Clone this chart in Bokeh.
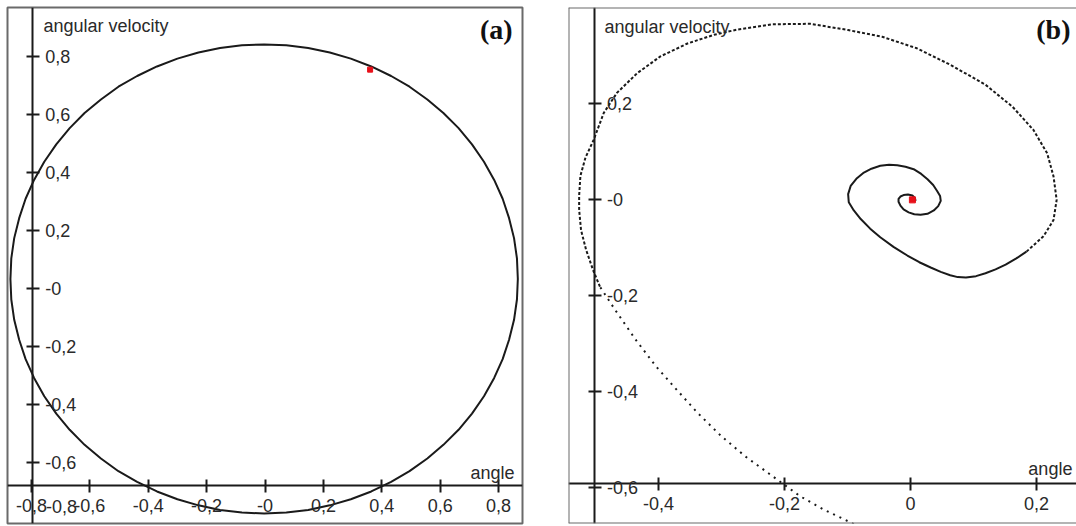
from bokeh.plotting import figure
from bokeh.models import LinearAxis, FixedTicker, Range1d, Label, Span
from bokeh.layouts import row
from bokeh.embed import file_html
from bokeh.resources import INLINE

# ---------------- data: panel (a) ----------------
orbit_a_angle = [0.866, 0.863, 0.853, 0.836, 0.814, 0.785, 0.750, 0.709, 0.663, 0.611,
                 0.556, 0.495, 0.432, 0.364, 0.294, 0.222, 0.148, 0.073, -0.003, -0.079,
                 -0.154, -0.228, -0.300, -0.370, -0.438, -0.502, -0.562, -0.618, -0.669,
                 -0.715, -0.756, -0.791, -0.820, -0.842, -0.859, -0.869, -0.872, -0.869,
                 -0.859, -0.842, -0.820, -0.791, -0.756, -0.715, -0.669, -0.618, -0.562,
                 -0.502, -0.438, -0.370, -0.300, -0.228, -0.154, -0.079, -0.003, 0.073,
                 0.148, 0.222, 0.294, 0.364, 0.432, 0.495, 0.556, 0.611, 0.663, 0.709,
                 0.750, 0.785, 0.814, 0.836, 0.853, 0.863, 0.866]
orbit_a_velocity = [0.033, 0.104, 0.174, 0.243, 0.310, 0.375, 0.438, 0.498, 0.554, 0.606,
                    0.653, 0.697, 0.734, 0.767, 0.794, 0.815, 0.831, 0.840, 0.843, 0.840,
                    0.831, 0.815, 0.794, 0.767, 0.734, 0.697, 0.653, 0.606, 0.554,
                    0.498, 0.438, 0.375, 0.310, 0.243, 0.174, 0.104, 0.033, -0.038,
                    -0.108, -0.177, -0.244, -0.309, -0.372, -0.432, -0.488, -0.540, -0.587,
                    -0.631, -0.668, -0.701, -0.728, -0.749, -0.765, -0.774, -0.777, -0.774,
                    -0.765, -0.749, -0.728, -0.701, -0.668, -0.631, -0.587, -0.540, -0.488,
                    -0.432, -0.372, -0.309, -0.244, -0.177, -0.108, -0.038, 0.033]
state_a_angle = [0.36]
state_a_velocity = [0.756]

a_xticks = [-0.8, -0.6, -0.4, -0.2, 0.0, 0.2, 0.4, 0.6, 0.8]
a_xtick_labels = ["-0,8", "-0,6", "-0,4", "-0,2", "-0", "0,2", "0,4", "0,6", "0,8"]
a_yticks = [0.8, 0.6, 0.4, 0.2, 0.0, -0.2, -0.4, -0.6]
a_ytick_labels = ["0,8", "0,6", "0,4", "0,2", "-0", "-0,2", "-0,4", "-0,6"]
a_extra_xlabel = "-0,8"

# ---------------- data: panel (b) ----------------
spiral_tail_angle = [-0.060, -0.099, -0.137, -0.175, -0.219, -0.262, -0.300, -0.338,
                     -0.371, -0.404, -0.436, -0.469, -0.493]
spiral_tail_velocity = [-0.695, -0.670, -0.646, -0.618, -0.576, -0.535, -0.493, -0.444,
                        -0.396, -0.347, -0.292, -0.229, -0.181]
spiral_outer_angle = [-0.493, -0.504, -0.515, -0.523, -0.526, -0.526, -0.524, -0.516,
                      -0.503, -0.487, -0.466, -0.434, -0.397, -0.354, -0.312, -0.275,
                      -0.219, -0.159, -0.099, -0.045, 0.010, 0.064, 0.119, 0.162, 0.195,
                      0.217, 0.227, 0.232, 0.227, 0.211, 0.184]
spiral_outer_velocity = [-0.181, -0.146, -0.104, -0.063, -0.021, 0.009, 0.050, 0.088,
                         0.125, 0.181, 0.223, 0.264, 0.299, 0.326, 0.344, 0.355,
                         0.366, 0.367, 0.354, 0.340, 0.316, 0.281, 0.240, 0.194, 0.146,
                         0.097, 0.049, 0.000, -0.042, -0.076, -0.108]
spiral_inner_angle = [0.184, 0.168, 0.151, 0.135, 0.119, 0.104, 0.088, 0.075, 0.063, 0.048,
                      0.032, 0.014, -0.005, -0.027, -0.048, -0.064, -0.079, -0.090, -0.098,
                      -0.099, -0.095, -0.086, -0.074, -0.062, -0.048, -0.034, -0.021, -0.008,
                      0.005, 0.017, 0.027, 0.036, 0.042, 0.047, 0.048, 0.044, 0.037, 0.027,
                      0.016, 0.006, -0.003, -0.011, -0.016, -0.019, -0.019, -0.016, -0.011,
                      -0.004, 0.003, 0.007, 0.008, 0.003]
spiral_inner_velocity = [-0.108, -0.122, -0.135, -0.145, -0.153, -0.159, -0.162, -0.161,
                         -0.157, -0.150, -0.141, -0.130, -0.116, -0.098, -0.078, -0.060,
                         -0.040, -0.022, -0.005, 0.012, 0.029, 0.044, 0.057, 0.065, 0.071,
                         0.073, 0.072, 0.069, 0.064, 0.054, 0.043, 0.031, 0.019, 0.008,
                         -0.002, -0.013, -0.022, -0.029, -0.031, -0.030, -0.026, -0.020,
                         -0.012, -0.004, 0.002, 0.007, 0.010, 0.011, 0.009, 0.004, -0.002,
                         0.000]
state_b_angle = [0.003]
state_b_velocity = [0.0]

b_xticks = [-0.4, -0.2, 0.0, 0.2]
b_xtick_labels = ["-0,4", "-0,2", "0", "0,2"]
b_yticks = [0.2, 0.0, -0.2, -0.4, -0.6]
b_ytick_labels = ["0,2", "-0", "-0,2", "-0,4", "-0,6"]

# ---------------- styling ----------------
INK = "#1a1a1a"
TXT = "#2a2a2a"
FRAME = "#6a6a6a"
FONT = "Liberation Sans"
FS = "18px"


def make_axis(ticks, labels, loc):
    return LinearAxis(
        fixed_location=loc,
        ticker=FixedTicker(ticks=ticks),
        major_label_overrides={t: l for t, l in zip(ticks, labels)},
        axis_line_color=INK, axis_line_width=2,
        major_tick_line_color=INK, major_tick_line_width=2,
        major_tick_in=6, major_tick_out=7,
        minor_tick_line_color=None,
        major_label_text_font=FONT, major_label_text_font_size=FS,
        major_label_text_color=TXT, major_label_standoff=6,
    )


def text(p, x, y, s, align="left", baseline="alphabetic", font=FONT, size=FS, style="normal", color=TXT):
    p.add_layout(Label(x=x, y=y, text=s, text_align=align, text_baseline=baseline,
                       text_font=font, text_font_size=size, text_font_style=style,
                       text_color=color))


# ---------------- panel (a) ----------------
pa = figure(width=540, height=526, output_backend="svg", toolbar_location=None,
            x_range=Range1d(-0.882, 0.882), y_range=Range1d(-0.8117, 0.9706),
            x_axis_type=None, y_axis_type=None,
            min_border_left=7, min_border_right=18, min_border_top=7, min_border_bottom=3,
            background_fill_color="white", border_fill_color="white",
            outline_line_color=FRAME, outline_line_width=2)
pa.add_layout(make_axis(a_xticks, a_xtick_labels, -0.6805), "below")
pa.add_layout(make_axis(a_yticks, a_ytick_labels, -0.797), "right")
pa.line(orbit_a_angle, orbit_a_velocity, line_color=INK, line_width=2)
pa.scatter(state_a_angle, state_a_velocity, marker="square", size=5,
           fill_color="#e8101a", line_color="#e8101a")
text(pa, -0.697, -0.753, a_extra_xlabel, align="center", baseline="middle")
text(pa, -0.759, 0.9070, "angular velocity")
text(pa, 0.848, 0.896, "(a)", align="right", font="Liberation Serif", size="28px",
     style="bold", color="#111111")
text(pa, 0.855, -0.6356, "angle", align="right")

# ---------------- panel (b) ----------------
bx0, bx1, by0, by1 = -0.5429, 0.2635, -0.6746, 0.401
pb = figure(width=536, height=526, output_backend="svg", toolbar_location=None,
            x_range=Range1d(bx0, bx1), y_range=Range1d(by0, by1),
            x_axis_type=None, y_axis_type=None,
            min_border_left=28, min_border_right=0, min_border_top=4, min_border_bottom=3,
            background_fill_color="white", border_fill_color="white",
            outline_line_color=None)
pb.add_layout(Span(location=bx0, dimension="height", line_color=FRAME, line_width=2))
pb.add_layout(Span(location=by1, dimension="width", line_color=FRAME, line_width=2))
pb.add_layout(Span(location=by0, dimension="width", line_color=FRAME, line_width=2))
pb.add_layout(make_axis(b_xticks, b_xtick_labels, -0.5917), "below")
pb.add_layout(make_axis(b_yticks, b_ytick_labels, -0.5024), "right")
pb.line(spiral_tail_angle, spiral_tail_velocity, line_color=INK, line_width=2, line_dash="2 5")
pb.line(spiral_outer_angle, spiral_outer_velocity, line_color=INK, line_width=2, line_dash="3 2")
pb.line(spiral_inner_angle, spiral_inner_velocity, line_color=INK, line_width=2)
pb.scatter(state_b_angle, state_b_velocity, marker="square", size=6,
           fill_color="#e8101a", line_color="#e8101a")
text(pb, -0.4857, 0.3610, "angular velocity")
text(pb, 0.254, 0.356, "(b)", align="right", font="Liberation Serif", size="28px",
     style="bold", color="#111111")
text(pb, 0.257, -0.5606, "angle", align="right")

layout = row(pa, pb)
open("out.html", "w").write(file_html(layout, INLINE))
